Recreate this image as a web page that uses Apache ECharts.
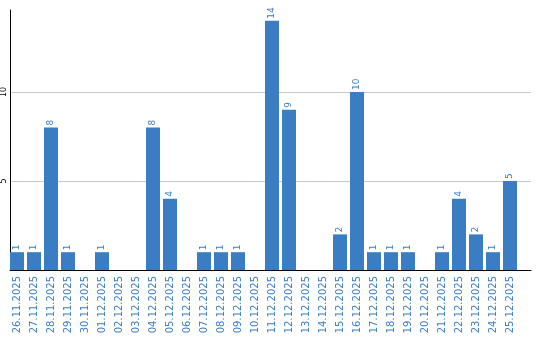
<!DOCTYPE html>
<html><head><meta charset="utf-8">
<script src="https://cdn.jsdelivr.net/npm/echarts@6/dist/echarts.min.js"></script>
<style>html,body{margin:0;padding:0;background:#fff}#c{width:540px;height:340px}</style>
</head><body><div id="c"></div>
<script>
const categories = ["26.11.2025","27.11.2025","28.11.2025","29.11.2025","30.11.2025","01.12.2025","02.12.2025","03.12.2025","04.12.2025","05.12.2025","06.12.2025","07.12.2025","08.12.2025","09.12.2025","10.12.2025","11.12.2025","12.12.2025","13.12.2025","14.12.2025","15.12.2025","16.12.2025","17.12.2025","18.12.2025","19.12.2025","20.12.2025","21.12.2025","22.12.2025","23.12.2025","24.12.2025","25.12.2025"];
const values = [1,1,8,1,0,1,0,0,8,4,0,1,1,1,0,14,9,0,0,2,10,1,1,1,0,1,4,2,1,5];
const yTicks = [5, 10];
const yMax = 14.6;

const blue = '#3b7dc3';
const font = 'DejaVu Sans';
const chart = echarts.init(document.getElementById('c'), null, {renderer:'canvas'});
chart.setOption({
  animation: false,
  grid: [
    {left: 8.5, width: 510, top: 10, bottom: 70},
    {left: 10, right: 9, top: 10, bottom: 70}
  ],
  xAxis: [{
    gridIndex: 0, type: 'category', data: categories,
    axisLine: {show: false},
    axisTick: {show: false},
    axisLabel: {rotate: 90, color: blue, fontFamily: font, fontSize: 10, margin: 6, interval: 0}
  }, {
    gridIndex: 1, type: 'value', min: 0, max: 1,
    axisLine: {show: true, onZero: false, lineStyle: {color: '#000', width: 1}},
    axisTick: {show: false}, axisLabel: {show: false}, splitLine: {show: false}
  }],
  yAxis: [{
    gridIndex: 0, type: 'value', min: 0, max: yMax, interval: 5,
    axisLine: {show: false}, axisTick: {show: false}, axisLabel: {show: false}, splitLine: {show: false}
  }, {
    gridIndex: 1, type: 'value', min: 0, max: yMax, interval: 5,
    axisLine: {show: true, lineStyle: {color: '#000', width: 1}},
    axisTick: {show: false},
    splitLine: {lineStyle: {color: ['#c8c8c8','#c8c8c8','#c8c8c8','rgba(0,0,0,0)'], width: 1}},
    axisLabel: {
      rotate: 90, color: '#000', fontFamily: font, fontSize: 8, margin: 2,
      formatter: v => yTicks.includes(v) ? String(v) : ''
    }
  }],
  series: [{
    type: 'bar', xAxisIndex: 0, yAxisIndex: 0, data: values, barWidth: 14,
    itemStyle: {color: blue},
    label: {
      show: true, position: 'top', rotate: 90, align: 'left', verticalAlign: 'middle', distance: 2,
      color: blue, fontFamily: font, fontSize: 9,
      formatter: p => p.value ? String(p.value) : ''
    }
  }]
});
</script></body></html>
